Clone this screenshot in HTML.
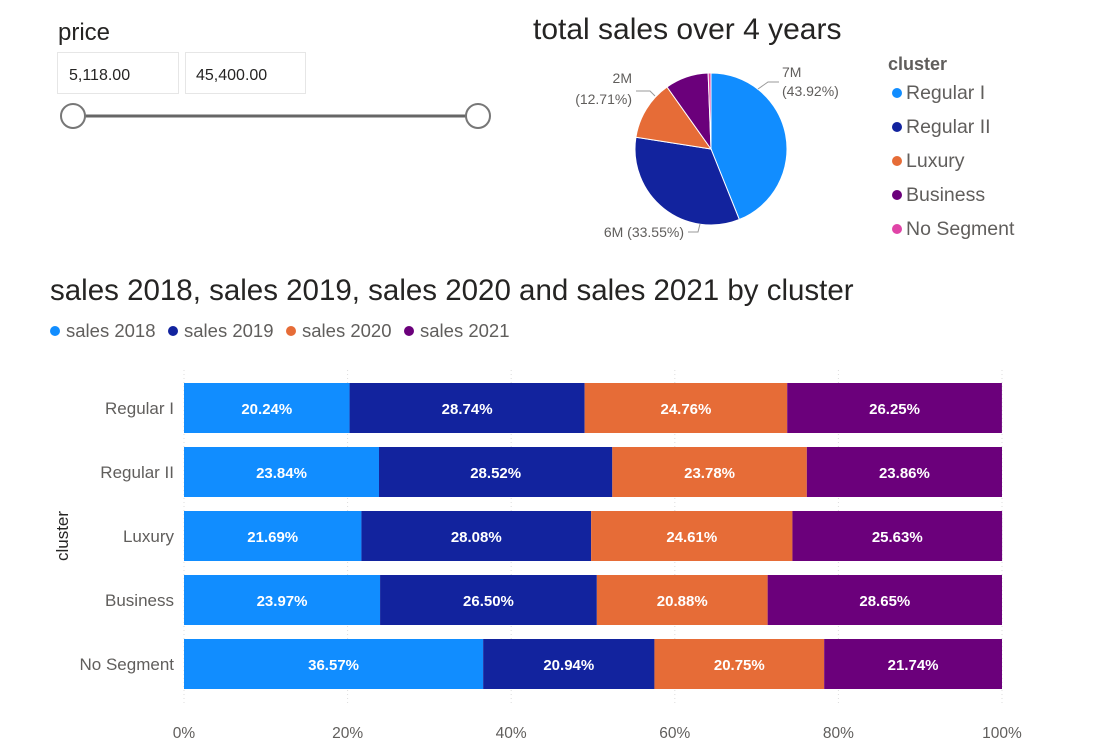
<!DOCTYPE html>
<html><head><meta charset="utf-8"><style>
body{margin:0;width:1097px;height:746px;background:#fff;font-family:"Liberation Sans",sans-serif;overflow:hidden}
svg text{font-family:"Liberation Sans",sans-serif}
</style></head><body>
<svg id="s" width="1097" height="746">
<g>
<text x="58" y="40" font-size="24" fill="#252423">price</text>
<rect x="57.5" y="52.5" width="121" height="41" fill="#fff" stroke="#e6e6e6"/>
<text x="69" y="80" font-size="16" fill="#252423">5,118.00</text>
<rect x="185.5" y="52.5" width="120" height="41" fill="#fff" stroke="#e6e6e6"/>
<text x="196" y="80" font-size="16" fill="#252423">45,400.00</text>
<line x1="74" y1="116" x2="478" y2="116" stroke="#666" stroke-width="3"/>
<circle cx="73" cy="116" r="12" fill="#fff" stroke="#777" stroke-width="2"/>
<circle cx="478" cy="116" r="12" fill="#fff" stroke="#777" stroke-width="2"/>
</g>
<text x="533" y="39" font-size="30" fill="#252423">total sales over 4 years</text>
<g id="pie"></g>
<g font-size="14" fill="#605e5c">
<text x="782" y="77">7M</text><text x="782" y="96">(43.92%)</text>
<polyline points="758,89 768,82 779,82" fill="none" stroke="#999"/>
<text x="632" y="83" text-anchor="end">2M</text><text x="632" y="104" text-anchor="end">(12.71%)</text>
<polyline points="636,91 650,91 655,96" fill="none" stroke="#999"/>
<text x="684" y="237" text-anchor="end">6M (33.55%)</text>
<polyline points="688,232 698,232 700,224" fill="none" stroke="#999"/>
</g>
<g id="pielegend">
<text x="888" y="70" font-size="18" font-weight="bold" fill="#605e5c">cluster</text>
</g>
<text x="50" y="300" font-size="29.5" fill="#252423">sales 2018, sales 2019, sales 2020 and sales 2021 by cluster</text>
<g id="barlegend"></g>
<text transform="translate(68,536) rotate(-90)" text-anchor="middle" font-size="17" fill="#252423">cluster</text>
<g id="bars"></g>
</svg>
<script>
const clusters=["Regular I","Regular II","Luxury","Business","No Segment"];
const pieShares=[43.92,33.55,12.71,9.22,0.6];
const colors=["#118dff","#12239e","#e66c37","#6b007b","#e044a7"];
const years=["sales 2018","sales 2019","sales 2020","sales 2021"];
const s2018=[20.24,23.84,21.69,23.97,36.57];
const s2019=[28.74,28.52,28.08,26.50,20.94];
const s2020=[24.76,23.78,24.61,20.88,20.75];
const s2021=[26.25,23.86,25.63,28.65,21.74];
const ticks=[0,20,40,60,80,100];
const NS="http://www.w3.org/2000/svg";
function mk(t,a,p){const e=document.createElementNS(NS,t);for(const k in a)e.setAttribute(k,a[k]);p.appendChild(e);return e;}
const pie=document.getElementById('pie');const cx=711,cy=149,r=76;
let tot=pieShares.reduce((a,b)=>a+b,0),acc=0;
pieShares.forEach((v,i)=>{const a0=acc/tot*2*Math.PI;acc+=v;const a1=acc/tot*2*Math.PI;
const x0=cx+r*Math.sin(a0),y0=cy-r*Math.cos(a0),x1=cx+r*Math.sin(a1),y1=cy-r*Math.cos(a1);
const p=mk('path',{d:`M${cx},${cy}L${x0},${y0}A${r},${r} 0 ${a1-a0>Math.PI?1:0} 1 ${x1},${y1}Z`,fill:colors[i],stroke:'#fff','stroke-width':1},pie);

});
const pl=document.getElementById('pielegend');
clusters.forEach((c,i)=>{const y=93+i*34;
const g=mk('g',{},pl);


mk('circle',{cx:897,cy:y,r:5,fill:colors[i]},g);
const t=mk('text',{x:906,y:y+6,'font-size':19.5,fill:'#605e5c'},g);t.textContent=c;});
const bl=document.getElementById('barlegend');const lx=[55,173,291,409];
years.forEach((y,i)=>{const g=mk('g',{},bl);


mk('circle',{cx:lx[i],cy:331,r:5,fill:colors[i]},g);
const t=mk('text',{x:lx[i]+11,y:337,'font-size':18.5,fill:'#605e5c'},g);t.textContent=y;});
const bars=document.getElementById('bars');
const X=v=>184+v/100*818;const Y=i=>408+i*64;const bh=50;
ticks.forEach(t=>{mk('line',{x1:X(t),y1:370,x2:X(t),y2:705,stroke:'#ddd','stroke-dasharray':'1,3'},bars);
const tx=mk('text',{x:X(t),y:738,'text-anchor':'middle','font-size':15.5,fill:'#605e5c'},bars);tx.textContent=t+'%';
});
const series=[s2018,s2019,s2020,s2021];
clusters.forEach((c,i)=>{const lb=mk('text',{x:174,y:Y(i)+6,'text-anchor':'end','font-size':17,fill:'#605e5c'},bars);lb.textContent=c;

let a=0;series.forEach((s,j)=>{const v=s[i];
const rc=mk('rect',{x:X(a),y:Y(i)-bh/2,width:X(a+v)-X(a),height:bh,fill:colors[j]},bars);


const t=mk('text',{x:(X(a)+X(a+v))/2,y:Y(i)+6,'text-anchor':'middle','font-size':15,'font-weight':'bold',fill:'#fff'},bars);t.textContent=v.toFixed(2)+'%';
a+=v;});});
</script>
</body></html>
